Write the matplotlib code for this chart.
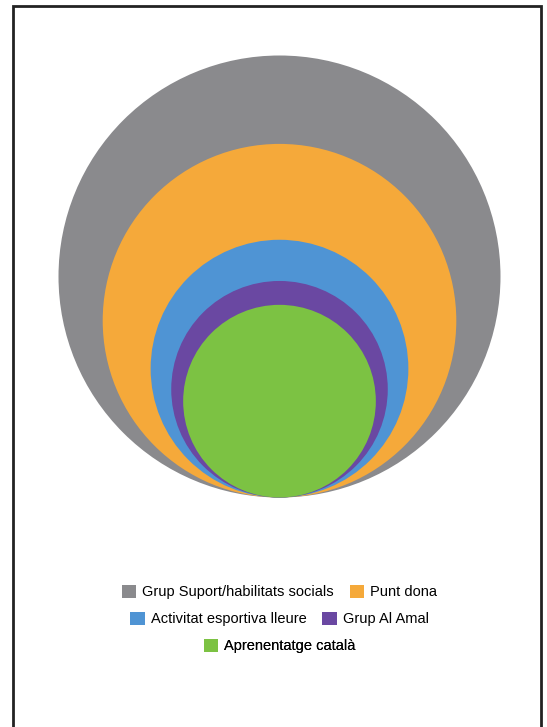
import numpy as np
import matplotlib.pyplot as plt
from matplotlib.patches import Circle, Patch

plt.rcParams['font.family'] = ['Liberation Sans', 'DejaVu Sans']

# nested circles, area proportional to value
labels = ['Grup Suport/habilitats socials', 'Punt dona', 'Activitat esportiva lleure',
          'Grup Al Amal', 'Aprenentatge català']
values = [100, 64, 34, 24, 19]
colors = ['#8a8a8d', '#f5a93a', '#4f94d4', '#6a48a2', '#7cc243']

W, H = 547, 727
fig = plt.figure(figsize=(W / 100, H / 100), dpi=100)
ax = fig.add_axes([0, 0, 1, 1])
ax.set_xlim(0, W)
ax.set_ylim(H, 0)
ax.set_aspect('equal')
ax.axis('off')

cx, base, r_max = 279.5, 497.5, 221
vmax = max(values)
for v, c in zip(values, colors):
    r = r_max * np.sqrt(v / vmax)
    ax.add_patch(Circle((cx, base - r), r, facecolor=c, edgecolor='none'))

# frame around the picture (no bottom edge)
ax.plot([13, 13, 541, 541], [H + 5, 6, 6, H + 5], color='#222222', lw=2,
        solid_joinstyle='miter', clip_on=False)

handles = [Patch(facecolor=c, edgecolor='none') for c in colors]
rows = [[0, 1], [2, 3], [4]]
row_y = [592, 619, 646]
for idx, y in zip(rows, row_y):
    leg = ax.legend([handles[i] for i in idx], [labels[i] for i in idx],
                    loc='center', bbox_to_anchor=(cx / W, 1 - y / H),
                    bbox_transform=fig.transFigure, ncol=len(idx), frameon=False,
                    fontsize=10.5, handlelength=1.0, handleheight=1.0,
                    handletextpad=0.4, columnspacing=1.1, borderpad=0)
    ax.add_artist(leg)

fig.savefig('out.png', dpi=100)
